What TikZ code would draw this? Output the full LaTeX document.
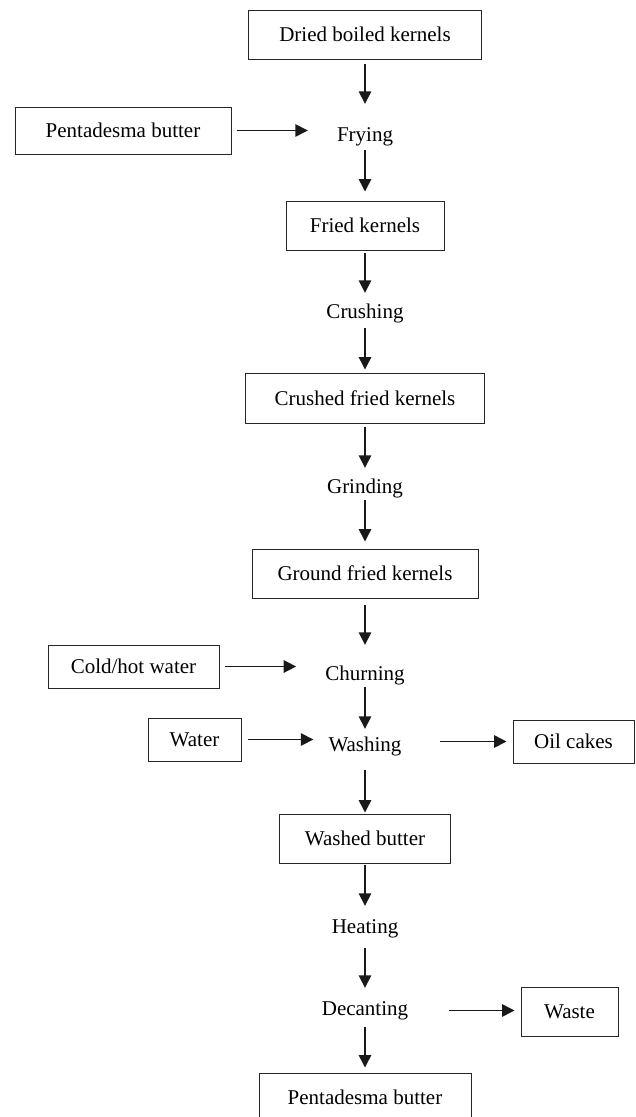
\documentclass[tikz,border=0pt]{standalone}
\usepackage{fontspec}
\setmainfont{Liberation Serif}
\usepackage{tikz}
\usetikzlibrary{arrows.meta}

\begin{document}
\begin{tikzpicture}[x=1pt, y=-1pt, font=\fontsize{21}{25}\selectfont,
  box/.style={draw=black!85, line width=1pt, minimum height=49pt, inner sep=0pt},
  stage/.style={inner sep=0pt, text height=14pt, text depth=5pt},
  arr/.style={draw=black!90, line width=1.5pt, -{Triangle[length=12.5pt,width=12.5pt]}}]

\useasboundingbox (0,0) rectangle (636,1117);
\clip (0,0) rectangle (636,1117);

\node (dried) at (365,34.5) [box, minimum width=233pt]{Dried boiled kernels};
\node (pb1) at (123,130.5) [box, minimum width=216pt, minimum height=47pt]{Pentadesma butter};
\node (frying) at (365,136.5) [stage]{Frying};
\node (fried) at (365,225.5) [box, minimum width=158pt]{Fried kernels};
\node (crushing) at (365,313.5) [stage]{Crushing};
\node (crushed) at (365,398) [box, minimum width=239pt, minimum height=50pt]{Crushed fried kernels};
\node (grinding) at (365,488.5) [stage]{Grinding};
\node (ground) at (365,573.5) [box, minimum width=226pt]{Ground fried kernels};
\node (cold) at (133.5,666.5) [box, minimum width=171pt, minimum height=43pt]{Cold/hot water};
\node (churning) at (365,675.5) [stage]{Churning};
\node (water) at (194.5,739.5) [box, minimum width=93pt, minimum height=43pt]{Water};
\node (washing) at (365,746.5) [stage]{Washing};
\node (oil) at (573.5,741.5) [box, minimum width=121pt, minimum height=43pt]{Oil cakes};
\node (washed) at (365,838.5) [box, minimum width=171pt]{Washed butter};
\node (heating) at (365,928.5) [stage]{Heating};
\node (decanting) at (365,1010.5) [stage]{Decanting};
\node (waste) at (569.5,1011.5) [box, minimum width=97pt]{Waste};
\node (pb2) at (365,1097.5) [box, minimum width=212pt]{Pentadesma butter};

% main column
\draw[arr, shorten <=4pt, shorten >=23pt] (dried.south) -- (frying.north);
\draw[arr, shorten <=4pt, shorten >=9pt] (frying.south) -- (fried.north);
\draw[arr, shorten <=2pt, shorten >=11pt] (fried.south) -- (crushing.north);
\draw[arr, shorten <=5pt, shorten >=3pt] (crushing.south) -- (crushed.north);
\draw[arr, shorten <=3pt, shorten >=11pt] (crushed.south) -- (grinding.north);
\draw[arr, shorten <=2pt, shorten >=7pt] (grinding.south) -- (ground.north);
\draw[arr, shorten <=6pt, shorten >=21pt] (ground.south) -- (churning.north);
\draw[arr, shorten <=2pt, shorten >=8pt] (churning.south) -- (washing.north);
\draw[arr, shorten <=14pt, shorten >=1pt] (washing.south) -- (washed.north);
\draw[arr, shorten <=1pt, shorten >=13pt] (washed.south) -- (heating.north);
\draw[arr, shorten <=10pt, shorten >=13pt] (heating.south) -- (decanting.north);
\draw[arr, shorten <=7pt, shorten >=5pt] (decanting.south) -- (pb2.north);

% side inputs and outputs
\draw[arr, shorten <=5pt, shorten >=29pt] (pb1.east) -- (pb1.east -| frying.west);
\draw[arr, shorten <=5pt, shorten >=29pt] (cold.east) -- (cold.east -| churning.west);
\draw[arr, shorten <=6pt, shorten >=15pt] (water.east) -- (water.east -| washing.west);
\draw[arr, shorten <=38pt, shorten >=6pt] (oil.west -| washing.east) -- (oil.west);
\draw[arr, shorten <=41pt, shorten >=6pt] (decanting.east) -- (decanting.east -| waste.west);

\end{tikzpicture}
\end{document}
